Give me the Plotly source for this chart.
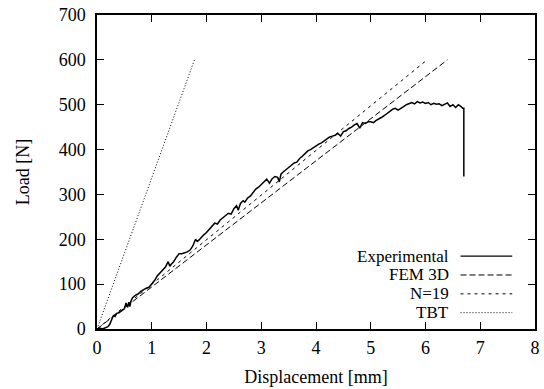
import plotly.graph_objects as go

# Experimental load-displacement curve
exp_x = [0, 0.05, 0.1, 0.15, 0.2, 0.23, 0.27, 0.3, 0.33, 0.36, 0.4, 0.45, 0.5, 0.53, 0.56, 0.58,
         0.6, 0.62, 0.65, 0.7, 0.75, 0.8, 0.85, 0.9, 0.95, 1.0, 1.05, 1.1, 1.15, 1.2, 1.25, 1.3,
         1.33, 1.36, 1.4, 1.45, 1.5, 1.55, 1.6, 1.65, 1.7, 1.75, 1.8, 1.83, 1.86, 1.9,
         1.95, 2.0, 2.05, 2.1, 2.15, 2.2, 2.25, 2.3, 2.35, 2.4, 2.45, 2.5, 2.55, 2.58, 2.62, 2.67,
         2.7, 2.75, 2.8, 2.85, 2.9, 2.95, 3.0, 3.05, 3.1, 3.15, 3.2, 3.25, 3.3, 3.33, 3.36, 3.4,
         3.45, 3.5, 3.55, 3.6, 3.65, 3.7, 3.75, 3.8, 3.85, 3.9, 3.95, 4.0, 4.05, 4.1, 4.15, 4.2,
         4.25, 4.3, 4.35, 4.4, 4.45, 4.5, 4.55, 4.6, 4.65, 4.7, 4.75, 4.8, 4.85, 4.9, 4.95, 5.0,
         5.05, 5.1, 5.15, 5.2, 5.25, 5.3, 5.35, 5.4, 5.45, 5.5, 5.55, 5.6, 5.65, 5.7, 5.75, 5.8,
         5.85, 5.9, 5.95, 6.0, 6.05, 6.1, 6.15, 6.2, 6.25, 6.3, 6.35, 6.4, 6.45, 6.5, 6.55, 6.6,
         6.65, 6.68, 6.7, 6.7]
exp_y = [0, 2, 0, 3, 5, 10, 22, 30, 28, 35, 36, 40, 45, 58, 48, 60,
         50, 62, 70, 75, 78, 84, 88, 91, 93, 100, 108, 118, 125, 132, 138, 150,
         140, 145, 150, 160, 168, 168, 170, 172, 176, 185, 200, 195, 198, 204,
         210, 215, 222, 230, 236, 234, 243, 248, 252, 258, 256, 268, 275, 265, 280, 286,
         283, 292, 296, 304, 312, 316, 322, 330, 334, 325, 335, 340, 338, 328, 345, 350,
         356, 360, 365, 370, 372, 380, 385, 392, 397, 400, 404, 410, 412, 415, 420, 424,
         428, 430, 432, 436, 430, 440, 442, 447, 450, 455, 458, 448, 460, 458, 462, 462,
         460, 465, 468, 472, 476, 480, 485, 490, 492, 488, 493, 496, 500, 503, 505, 502,
         507, 504, 506, 503, 505, 500, 503, 501, 502, 498, 502, 504, 496, 500, 494, 500,
         496, 492, 492, 340]

# Model predictions (linear)
fem_x = [0, 6.4]
fem_y = [0, 600]
n19_x = [0, 6.03]
n19_y = [0, 600]
tbt_x = [0, 1.78]
tbt_y = [0, 600]

x_ticks = [0, 1, 2, 3, 4, 5, 6, 7, 8]
y_ticks = [0, 100, 200, 300, 400, 500, 600, 700]

legend_names = ["Experimental", "FEM 3D", "N=19", "TBT"]
dashes = ["solid", "6px,3px", "3px,4px", "1px,2px"]
widths = [1.5, 1.0, 1.0, 1.0]

FONT = "Liberation Serif, Times New Roman, Times, serif"
FS = 18
LEG_FS = 17

fig = go.Figure()
series = [(exp_x, exp_y), (fem_x, fem_y), (n19_x, n19_y), (tbt_x, tbt_y)]
for (xs, ys), name, d, w in zip(series, legend_names, dashes, widths):
    fig.add_trace(go.Scatter(x=xs, y=ys, mode="lines", name=name,
                             line=dict(color="black", width=w, dash=d),
                             showlegend=False))

# gnuplot-style legend: right-aligned text, sample line to the right
leg_y0 = 0.232
leg_dy = 0.06
for i, (name, d, w) in enumerate(zip(legend_names, dashes, widths)):
    yy = leg_y0 - i * leg_dy
    fig.add_annotation(x=0.807, y=yy, xref="paper", yref="paper", text=name,
                       showarrow=False, xanchor="right", yanchor="middle",
                       borderpad=0,
                       font=dict(family=FONT, size=LEG_FS, color="black"))
    fig.add_shape(type="line", xref="paper", yref="paper",
                  x0=0.83, x1=0.948, y0=yy, y1=yy,
                  line=dict(color="black", width=min(w, 1.2), dash=d))

axis_common = dict(showgrid=False, zeroline=False, showline=True, linecolor="black",
                   linewidth=1.5, mirror="ticks", ticks="inside", ticklen=7,
                   tickcolor="black", tickwidth=1.2,
                   tickfont=dict(family=FONT, size=FS, color="black"))

fig.update_xaxes(range=[0, 8], tickvals=x_ticks, ticktext=[str(v) for v in x_ticks],
                 title=dict(text="Displacement [mm]", font=dict(family=FONT, size=FS, color="black"),
                            standoff=13),
                 ticklabelstandoff=2,
                 **axis_common)
fig.update_yaxes(range=[0, 700], tickvals=y_ticks, ticktext=[str(v) for v in y_ticks],
                 title=dict(text="Load [N]", font=dict(family=FONT, size=FS, color="black"),
                            standoff=24),
                 ticklabelstandoff=6,
                 **axis_common)

fig.update_layout(width=544, height=389, margin=dict(l=97, r=4, t=15, b=60),
                  paper_bgcolor="white", plot_bgcolor="white",
                  font=dict(family=FONT, size=FS, color="black"))

fig.write_html("out.html")
